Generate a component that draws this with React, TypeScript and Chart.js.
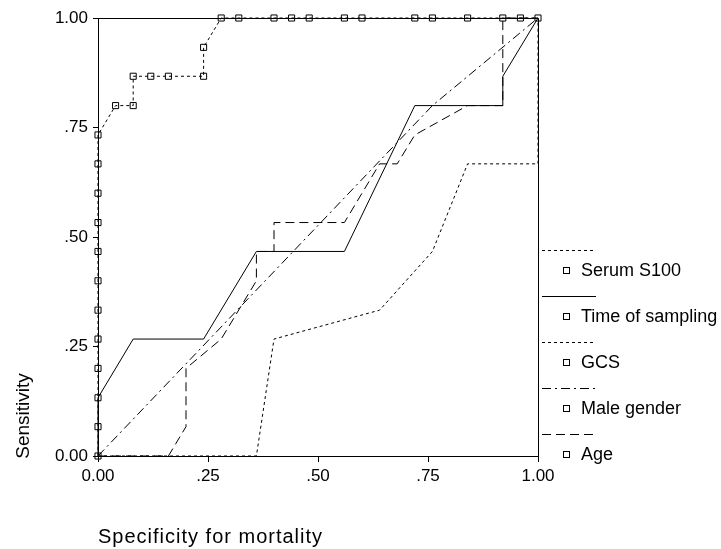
import { useEffect, useRef } from "react";
import { Chart, registerables } from "chart.js";

Chart.register(...registerables);

const seriesNames = ["Serum S100", "Time of sampling", "GCS", "Male gender", "Age"];

const s100X = [0, 0, 0, 0, 0, 0, 0, 0, 0, 0, 0, 0, 0.04, 0.08, 0.08, 0.12, 0.16, 0.24, 0.24, 0.28, 0.32, 0.4, 0.44, 0.48, 0.56, 0.6, 0.72, 0.76, 0.84, 0.92, 0.96, 1.0];
const s100Y = [0, 0.067, 0.133, 0.2, 0.267, 0.333, 0.4, 0.467, 0.533, 0.6, 0.667, 0.733, 0.8, 0.8, 0.867, 0.867, 0.867, 0.867, 0.933, 1, 1, 1, 1, 1, 1, 1, 1, 1, 1, 1, 1, 1];

const timeX = [0, 0, 0.08, 0.24, 0.36, 0.56, 0.72, 0.92, 0.92, 1];
const timeY = [0, 0.133, 0.267, 0.267, 0.467, 0.467, 0.8, 0.8, 0.867, 1];

const gcsX = [0, 0.36, 0.4, 0.64, 0.76, 0.84, 1, 1];
const gcsY = [0, 0, 0.267, 0.333, 0.467, 0.667, 0.667, 1];

const maleX = [0, 0.76, 1];
const maleY = [0, 0.8, 1];

const ageX = [0, 0.16, 0.2, 0.2, 0.28, 0.36, 0.36, 0.4, 0.4, 0.56, 0.64, 0.68, 0.72, 0.84, 0.92, 0.92, 1];
const ageY = [0, 0, 0.067, 0.2, 0.267, 0.4, 0.467, 0.467, 0.533, 0.533, 0.667, 0.667, 0.733, 0.8, 0.8, 1, 1];

const xTickValues = [0, 0.25, 0.5, 0.75, 1];
const xTickLabels = ["0.00", ".25", ".50", ".75", "1.00"];
const yTickValues = [0, 0.25, 0.5, 0.75, 1];
const yTickLabels = ["0.00", ".25", ".50", ".75", "1.00"];

const xTitle = "Specificity for mortality";
const yTitle = "Sensitivity";

const dashes: number[][] = [[3, 3], [], [3, 3], [9, 4, 2, 4], [9, 5]];

const FONT = "'Liberation Sans', Arial, sans-serif";

const zip = (xs: number[], ys: number[]) => xs.map((x, i) => ({ x, y: ys[i] }));

const decorPlugin = {
  id: "decor",
  afterDraw(chart: any) {
    const { ctx, chartArea } = chart;
    const { left, right, top, bottom } = chartArea;
    ctx.save();
    ctx.strokeStyle = "#000";
    ctx.lineWidth = 1;
    ctx.setLineDash([]);
    ctx.beginPath();
    ctx.moveTo(left, top + 0.5);
    ctx.lineTo(right + 0.5, top + 0.5);
    ctx.lineTo(right + 0.5, bottom);
    ctx.stroke();

    // legend
    const lx0 = right + 4;
    const lx1 = right + 58;
    const startY = 250;
    const step = 46;
    ctx.font = `18px ${FONT}`;
    ctx.fillStyle = "#000";
    ctx.textBaseline = "middle";
    ctx.textAlign = "left";
    seriesNames.forEach((name, i) => {
      const ly = startY + i * step;
      ctx.beginPath();
      ctx.setLineDash(dashes[i]);
      ctx.moveTo(lx0, ly + 0.5);
      ctx.lineTo(lx1, ly + 0.5);
      ctx.stroke();
      ctx.setLineDash([]);
      const ty = ly + 21;
      ctx.strokeRect(right + 25.5, ty - 3.5, 6, 6);
      ctx.fillText(name, right + 43, ty);
    });

    // axis titles
    ctx.font = `20px ${FONT}`;
    ctx.textAlign = "left";
    ctx.textBaseline = "middle";
    try {
      (ctx as any).letterSpacing = "1px";
    } catch (e) {}
    ctx.fillText(xTitle, left, 537);
    try {
      (ctx as any).letterSpacing = "0px";
    } catch (e) {}
    ctx.font = `19px ${FONT}`;
    ctx.save();
    ctx.translate(24, 416);
    ctx.rotate(-Math.PI / 2);
    ctx.textAlign = "center";
    ctx.fillText(yTitle, 0, 0);
    ctx.restore();
    ctx.restore();
  },
};

export default function App() {
  const ref = useRef<HTMLCanvasElement | null>(null);
  useEffect(() => {
    if (!ref.current) return;
    const mk = (i: number, xs: number[], ys: number[], points: boolean) => ({
      label: seriesNames[i],
      data: zip(xs, ys),
      showLine: true,
      borderColor: "#000",
      borderWidth: 1,
      borderDash: dashes[i],
      pointRadius: points ? 4.3 : 0,
      pointStyle: "rect",
      pointBorderColor: "#000",
      pointBackgroundColor: "rgba(0,0,0,0)",
      pointBorderWidth: 1,
      pointHoverRadius: 0,
      clip: false as any,
      tension: 0,
    });
    const chart = new Chart(ref.current, {
      type: "scatter",
      data: {
        datasets: [
          mk(1, timeX, timeY, false),
          mk(2, gcsX, gcsY, false),
          mk(3, maleX, maleY, false),
          mk(4, ageX, ageY, false),
          mk(0, s100X, s100Y, true),
        ] as any,
      },
      options: {
        animation: false,
        responsive: true,
        maintainAspectRatio: false,
        layout: { padding: { left: 0, top: 18, right: 183, bottom: 0 } },
        plugins: { legend: { display: false }, tooltip: { enabled: false } },
        events: [],
        scales: {
          x: {
            type: "linear",
            min: 0,
            max: 1,
            afterBuildTicks: (s: any) => {
              s.ticks = xTickValues.map((v) => ({ value: v }));
            },
            afterFit: (s: any) => {
              s.height = 93;
            },
            ticks: {
              color: "#000",
              font: { family: FONT, size: 17 },
              padding: 4,
              maxRotation: 0,
              autoSkip: false,
              callback: (_v: any, i: number) => xTickLabels[i],
            },
            grid: { display: true, drawOnChartArea: false, drawTicks: true, tickLength: 6, color: "#000" },
            border: { display: true, color: "#000", width: 1 },
          },
          y: {
            type: "linear",
            min: 0,
            max: 1,
            afterBuildTicks: (s: any) => {
              s.ticks = yTickValues.map((v) => ({ value: v }));
            },
            afterFit: (s: any) => {
              s.width = 98;
            },
            ticks: {
              color: "#000",
              font: { family: FONT, size: 17 },
              padding: 5,
              autoSkip: false,
              callback: (_v: any, i: number) => yTickLabels[i],
            },
            grid: { display: true, drawOnChartArea: false, drawTicks: true, tickLength: 5, color: "#000" },
            border: { display: true, color: "#000", width: 1 },
          },
        },
      },
      plugins: [decorPlugin],
    });
    return () => chart.destroy();
  }, []);
  return (
    <div style={{ position: "fixed", left: 0, top: 0, width: 721, height: 549, background: "#fff" }}>
      <canvas ref={ref} />
    </div>
  );
}
